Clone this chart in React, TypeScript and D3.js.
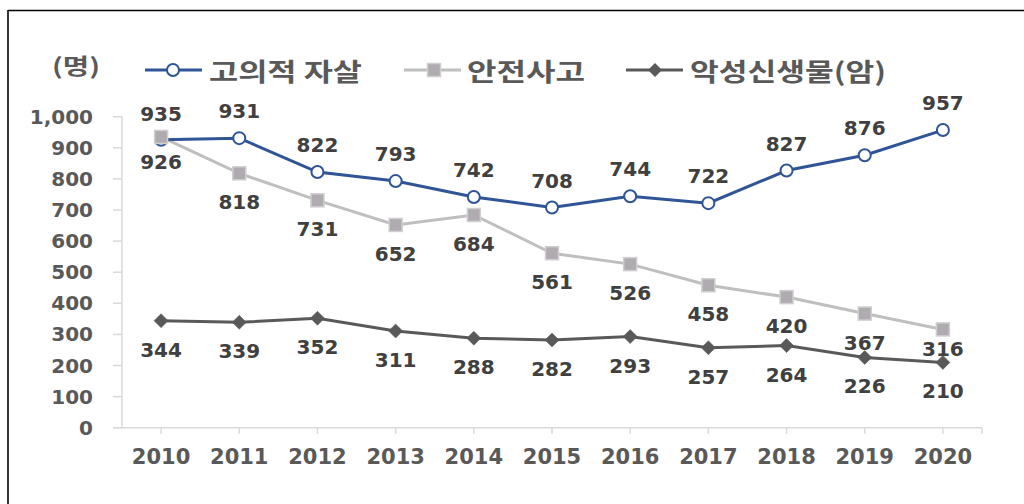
import React from "react";
import * as d3 from "d3";

const years = ["2010","2011","2012","2013","2014","2015","2016","2017","2018","2019","2020"];
const suicide = [926, 931, 822, 793, 742, 708, 744, 722, 827, 876, 957];
const accident = [935, 818, 731, 652, 684, 561, 526, 458, 420, 367, 316];
const cancer = [344, 339, 352, 311, 288, 282, 293, 257, 264, 226, 210];
const yTicks = [0, 100, 200, 300, 400, 500, 600, 700, 800, 900, 1000];
const seriesNames = ["고의적 자살", "안전사고", "악성신생물(암)"];
const unitLabel = "(명)";

const BLUE = "#2F5597";
const GRAY = "#BFBFBF";
const DARK = "#595959";
const AXIS = "#D9D9D9";
const TXT = "#595959";
const LBL = "#404040";
const SQ_FILL = "#B0ABB0";
const SQ_STROKE = "#CFCFCF";
const NUM_FONT = "'DejaVu Sans', Verdana, sans-serif";
const KR_FONT = "'Noto Sans CJK KR', sans-serif";

export default function App() {
  const x = d3.scalePoint<string>().domain(years).range([122, 982]).padding(0.5);
  const y = d3.scaleLinear().domain([0, 1000]).range([427.7, 116.7]);
  const line = d3.line<number>().x((_, i) => x(years[i])!).y((d) => y(d));
  const fmt = d3.format(",");

  // label placement: blue above (except 2010 below), gray below (except 2010 above), dark below
  const blueOff = (i: number) => (i === 0 ? 22 : -27);
  const grayOff = (i: number) => (i === 0 ? -23 : i === years.length - 1 ? 20 : 29);
  const darkOff = () => 29;

  const diamond = (cx: number, cy: number, s: number) =>
    `M${cx},${cy - s}L${cx + s},${cy}L${cx},${cy + s}L${cx - s},${cy}Z`;

  return (
    <svg width={1024} height={504} style={{ position: "absolute", left: 0, top: 0, background: "#fff" }}>
      <rect x={0} y={0} width={1024} height={504} fill="#fff" />
      {/* frame */}
      <line x1={8} y1={10.5} x2={1024} y2={10.5} stroke="#000" strokeWidth={1.6} />
      <line x1={8} y1={10} x2={8} y2={504} stroke="#000" strokeWidth={1.6} />

      {/* y axis */}
      <line x1={122} x2={122} y1={y(1000)} y2={y(0)} stroke={AXIS} strokeWidth={1.5} />
      {yTicks.map((t) => (
        <g key={t}>
          <line x1={113} x2={122} y1={y(t)} y2={y(t)} stroke={AXIS} strokeWidth={1.5} />
          <text x={93} y={y(t)} textAnchor="end" dominantBaseline="central"
            fontFamily={NUM_FONT} fontWeight="bold" fontSize={20} fill={TXT}>{fmt(t)}</text>
        </g>
      ))}
      {/* x axis */}
      <line x1={113} x2={982} y1={y(0)} y2={y(0)} stroke={AXIS} strokeWidth={1.5} />
      {years.map((yr) => (
        <g key={yr}>
          <line x1={x(yr)} x2={x(yr)} y1={y(0)} y2={y(0) + 6} stroke={AXIS} strokeWidth={1.5} />
          <text x={x(yr)} y={464} textAnchor="middle" fontFamily={NUM_FONT} fontWeight="bold"
            fontSize={21} fill={TXT}>{yr}</text>
        </g>
      ))}
      <line x1={982} x2={982} y1={y(0)} y2={y(0) + 6} stroke={AXIS} strokeWidth={1.5} />

      {/* series lines */}
      <path d={line(cancer)!} fill="none" stroke={DARK} strokeWidth={3} />
      <path d={line(accident)!} fill="none" stroke={GRAY} strokeWidth={3} />
      <path d={line(suicide)!} fill="none" stroke={BLUE} strokeWidth={3} />

      {/* markers */}
      {cancer.map((v, i) => (
        <path key={"c" + i} d={diamond(x(years[i])!, y(v), 7)} fill={DARK} stroke={DARK} strokeWidth={0.5} />
      ))}
      {suicide.map((v, i) => (
        <circle key={"s" + i} cx={x(years[i])} cy={y(v)} r={6} fill="#fff" stroke={BLUE} strokeWidth={2} />
      ))}
      {accident.map((v, i) => (
        <rect key={"a" + i} x={x(years[i])! - 6.5} y={y(v) - 6.5} width={13} height={13}
          fill={SQ_FILL} stroke={SQ_STROKE} strokeWidth={1.5} />
      ))}

      {/* data labels */}
      {suicide.map((v, i) => (
        <text key={"sl" + i} x={x(years[i])} y={y(v) + blueOff(i)} textAnchor="middle" dominantBaseline="central"
          fontFamily={NUM_FONT} fontWeight="bold" fontSize={20} fill={LBL}>{v}</text>
      ))}
      {accident.map((v, i) => (
        <text key={"al" + i} x={x(years[i])} y={y(v) + grayOff(i)} textAnchor="middle" dominantBaseline="central"
          fontFamily={NUM_FONT} fontWeight="bold" fontSize={20} fill={LBL}>{v}</text>
      ))}
      {cancer.map((v, i) => (
        <text key={"cl" + i} x={x(years[i])} y={y(v) + darkOff()} textAnchor="middle" dominantBaseline="central"
          fontFamily={NUM_FONT} fontWeight="bold" fontSize={20} fill={LBL}>{v}</text>
      ))}

      {/* unit */}
      <text x={52} y={64} dominantBaseline="central" fontFamily={KR_FONT} fontWeight="bold"
        fontSize={22} fill={TXT} textLength={48} lengthAdjust="spacingAndGlyphs">{unitLabel}</text>

      {/* legend */}
      <g>
        <line x1={145} x2={202} y1={70} y2={70} stroke={BLUE} strokeWidth={3} />
        <circle cx={173} cy={70} r={6} fill="#fff" stroke={BLUE} strokeWidth={2} />
        <text x={209} y={70} dominantBaseline="central" fontFamily={KR_FONT} fontWeight="bold"
          fontSize={25} fill={TXT} textLength={153} lengthAdjust="spacingAndGlyphs">{seriesNames[0]}</text>

        <line x1={404} x2={461} y1={70} y2={70} stroke={GRAY} strokeWidth={3} />
        <rect x={427.5} y={63.5} width={13} height={13} fill={SQ_FILL} stroke={SQ_STROKE} strokeWidth={1.5} />
        <text x={467} y={70} dominantBaseline="central" fontFamily={KR_FONT} fontWeight="bold"
          fontSize={25} fill={TXT} textLength={118} lengthAdjust="spacingAndGlyphs">{seriesNames[1]}</text>

        <line x1={626} x2={683} y1={70} y2={70} stroke={DARK} strokeWidth={3} />
        <path d={diamond(655, 70, 7)} fill={DARK} />
        <text x={690} y={70} dominantBaseline="central" fontFamily={KR_FONT} fontWeight="bold"
          fontSize={25} fill={TXT} textLength={196} lengthAdjust="spacingAndGlyphs">{seriesNames[2]}</text>
      </g>
    </svg>
  );
}
